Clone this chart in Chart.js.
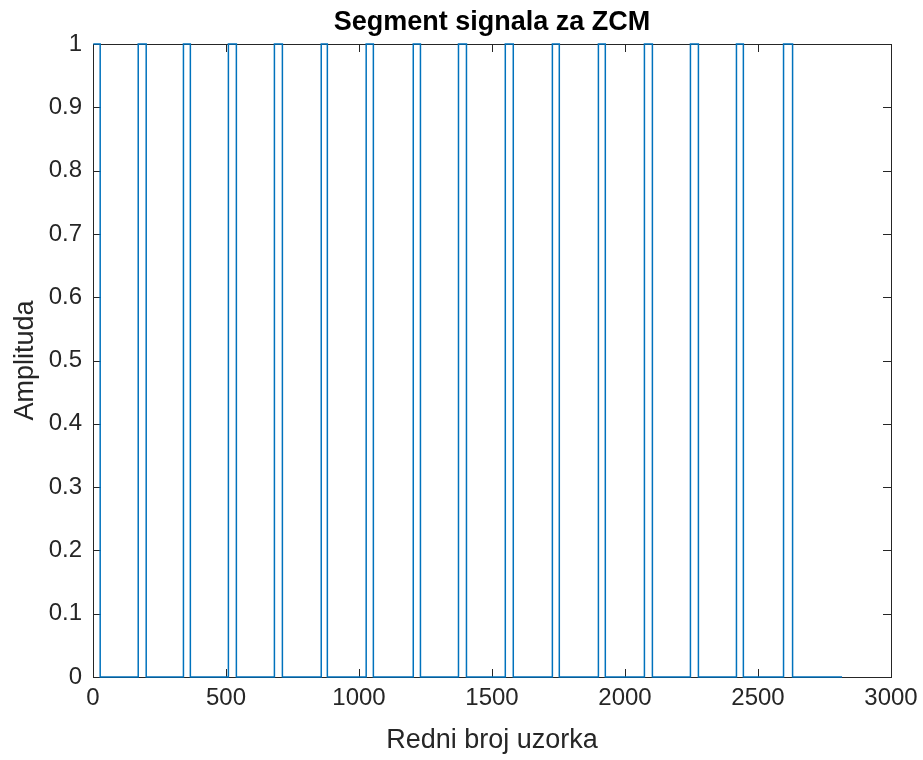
<!DOCTYPE html>
<html lang="en">
<head>
    <meta charset="UTF-8">
    <title>Segment signala za ZCM</title>
    <script src="https://cdn.jsdelivr.net/npm/chart.js"></script>
    <style>
        html, body {
            margin: 0;
            padding: 0;
            background: #fff;
        }

        #wrap {
            width: 923px;
            height: 760px;
        }
    </style>
</head>
<body>
<div id="wrap"><canvas id="zcmChart" width="923" height="760"></canvas></div>

<script>
  // pulse edges (sample index)
  const pulseStarts = [1, 170, 340, 509, 682, 858, 1027, 1204, 1374, 1550, 1727, 1900, 2073, 2246, 2419, 2596];
  const pulseEnds = [27, 200, 366, 539, 712, 881, 1054, 1231, 1404, 1580, 1753, 1926, 2103, 2276, 2445, 2630];
  const lastSample = 2816;
  const xTicks = [0, 500, 1000, 1500, 2000, 2500, 3000];
  const yTicks = [0, 0.1, 0.2, 0.3, 0.4, 0.5, 0.6, 0.7, 0.8, 0.9, 1];

  const axisColor = '#262626';
  const fontFamily = '"Liberation Sans", Arial, Helvetica, sans-serif';

  function buildSignal() {
    const pts = [];
    for (let i = 0; i < pulseStarts.length; i++) {
      if (pts.length || pulseStarts[i] > 1) {
        pts.push({x: pulseStarts[i], y: 0});
      }
      pts.push({x: pulseStarts[i], y: 1});
      pts.push({x: pulseEnds[i], y: 1});
      pts.push({x: pulseEnds[i], y: 0});
    }
    pts.push({x: lastSample, y: 0});
    return pts;
  }

  // matlab style box with inward ticks on all four sides
  const boxTicks = {
    id: 'boxTicks',
    beforeDatasetsDraw(chart) {
      const {ctx, chartArea: a, scales} = chart;
      const len = 8;
      ctx.save();
      ctx.strokeStyle = axisColor;
      ctx.lineWidth = 1;
      ctx.strokeRect(Math.round(a.left) + 0.5, Math.round(a.top) + 0.5,
        Math.round(a.right - a.left), Math.round(a.bottom - a.top));
      ctx.beginPath();
      xTicks.forEach(v => {
        const px = Math.round(scales.x.getPixelForValue(v)) + 0.5;
        ctx.moveTo(px, a.bottom);
        ctx.lineTo(px, a.bottom - len);
        ctx.moveTo(px, a.top);
        ctx.lineTo(px, a.top + len);
      });
      yTicks.forEach(v => {
        const py = Math.round(scales.y.getPixelForValue(v)) + 0.5;
        ctx.moveTo(a.left, py);
        ctx.lineTo(a.left + len, py);
        ctx.moveTo(a.right, py);
        ctx.lineTo(a.right - len, py);
      });
      ctx.stroke();
      ctx.restore();
    }
  };

  const ctx = document.getElementById('zcmChart').getContext('2d');
  new Chart(ctx, {
    type: 'line',
    data: {
      datasets: [{
        data: buildSignal(),
        borderColor: '#0072BD',
        borderWidth: 1.5,
        pointRadius: 0,
        fill: false,
        tension: 0,
        clip: 4
      }]
    },
    options: {
      responsive: false,
      animation: false,
      layout: {padding: 0},
      plugins: {
        legend: {display: false},
        tooltip: {enabled: false},
        title: {
          display: true,
          fullSize: false,
          text: 'Segment signala za ZCM',
          color: '#000',
          font: {family: fontFamily, size: 27, weight: 'bold', lineHeight: 1.2},
          padding: {top: 6, bottom: 5.6}
        }
      },
      scales: {
        x: {
          type: 'linear',
          min: 0,
          max: 3000,
          afterBuildTicks: s => { s.ticks = xTicks.map(v => ({value: v})); },
          afterFit: s => {
            s.height = 83;
            s.paddingLeft = 0;
            s.paddingRight = 32;
          },
          grid: {display: false, drawTicks: false},
          border: {display: false},
          ticks: {
            color: axisColor,
            maxRotation: 0,
            padding: 7,
            font: {family: fontFamily, size: 24},
            callback: v => String(v)
          },
          title: {
            display: true,
            text: 'Redni broj uzorka',
            color: axisColor,
            font: {family: fontFamily, size: 27, lineHeight: 1.2},
            padding: {top: 0, bottom: 3}
          }
        },
        y: {
          min: 0,
          max: 1,
          afterBuildTicks: s => { s.ticks = yTicks.map(v => ({value: v})); },
          afterFit: s => { s.width = 93; },
          grid: {display: false, drawTicks: false},
          border: {display: false},
          ticks: {
            color: axisColor,
            padding: 11,
            font: {family: fontFamily, size: 24},
            callback: v => String(Number(v.toFixed(1)))
          },
          title: {
            display: true,
            text: 'Amplituda',
            color: axisColor,
            font: {family: fontFamily, size: 27, lineHeight: 1.2},
            padding: {top: 9, bottom: 0}
          }
        }
      }
    },
    plugins: [boxTicks]
  });
</script>
</body>
</html>
